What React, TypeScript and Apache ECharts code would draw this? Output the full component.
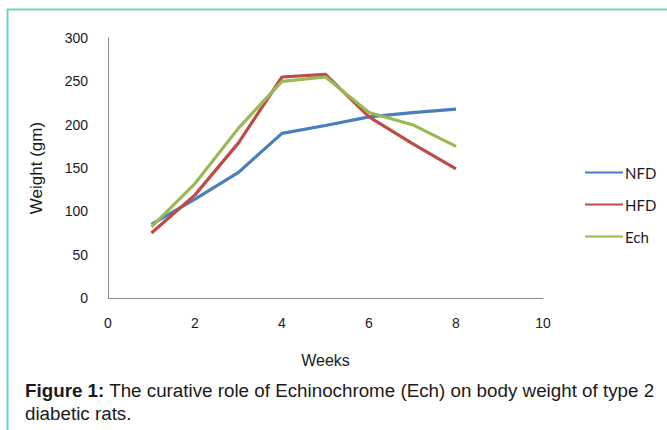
import React, { useEffect, useRef } from "react";
import * as echarts from "echarts";

const weeks = [1, 2, 3, 4, 5, 6, 7, 8];
const nfd = [85, 114, 145, 190, 199, 209, 214, 218];
const hfd = [75, 119, 179, 255, 258, 209, 178, 149];
const ech = [82, 132, 196, 250, 255, 214, 200, 175];
const seriesNames = ["NFD", "HFD", "Ech"];
const colors = ["#4A7EBB", "#BE4B48", "#98B954"];

export default function App() {
  const ref = useRef<HTMLDivElement>(null);
  useEffect(() => {
    if (!ref.current) return;
    const chart = echarts.init(ref.current, undefined, { renderer: "svg" });
    const data = [nfd, hfd, ech];
    chart.setOption({
      animation: false,
      backgroundColor: "#ffffff",
      grid: { left: 108, right: 124, top: 38, bottom: 132, containLabel: false },
      legend: {
        orient: "vertical",
        left: 580,
        top: 160,
        itemWidth: 38,
        itemHeight: 14,
        itemGap: 17,
        icon: "path://M0,6 L38,6 L38,8 L0,8 Z",
        textStyle: { fontFamily: "Lato", fontSize: 15, color: "#1a1a1a", padding: [0, 0, 0, -3] },
        data: seriesNames,
      },
      xAxis: {
        type: "value",
        min: 0,
        max: 10,
        interval: 2,
        name: "Weeks",
        nameLocation: "middle",
        nameGap: 54,
        nameTextStyle: { fontFamily: "Liberation Sans", fontSize: 16, color: "#1a1a1a" },
        axisLine: { lineStyle: { color: "#8c8c8c", width: 1 } },
        axisTick: { show: false },
        splitLine: { show: false },
        axisLabel: { fontFamily: "Liberation Sans", fontSize: 14, color: "#1a1a1a", margin: 18 },
      },
      yAxis: {
        type: "value",
        min: 0,
        max: 300,
        interval: 50,
        name: "Weight (gm)",
        nameLocation: "middle",
        nameRotate: 90,
        nameGap: 63,
        nameTextStyle: { fontFamily: "Liberation Sans", fontSize: 17, color: "#1a1a1a" },
        axisLine: { show: true, lineStyle: { color: "#8c8c8c", width: 1 } },
        axisTick: { show: false },
        splitLine: { show: false },
        axisLabel: { fontFamily: "Liberation Sans", fontSize: 14, color: "#1a1a1a", margin: 20 },
      },
      series: data.map((d, i) => ({
        name: seriesNames[i],
        type: "line",
        data: weeks.map((w, j) => [w, d[j]]),
        symbol: "none",
        lineStyle: { color: colors[i], width: 3.2 },
        itemStyle: { color: colors[i] },
      })),
      graphic: [
        { type: "line", shape: { x1: 7, y1: 9.5, x2: 667, y2: 9.5 }, style: { stroke: "#6fd3c3", lineWidth: 2 } },
        { type: "line", shape: { x1: 7.5, y1: 9, x2: 7.5, y2: 430 }, style: { stroke: "#6fd3c3", lineWidth: 2 } },
        {
          type: "text",
          left: 25,
          top: 379,
          style: {
            text: "{b|Figure 1:} The curative role of Echinochrome (Ech) on body weight of type 2\ndiabetic rats.",
            fontFamily: "Liberation Sans",
            fontSize: 18.8,
            lineHeight: 23,
            fill: "#1a1a1a",
            rich: {
              b: { fontFamily: "Liberation Sans", fontSize: 18.8, lineHeight: 23, fontWeight: "bold", fill: "#1a1a1a" },
            },
          },
        },
      ],
    });
    return () => chart.dispose();
  }, []);
  return (
    <div
      ref={ref}
      style={{ position: "fixed", left: 0, top: 0, width: 667, height: 430 }}
    />
  );
}
